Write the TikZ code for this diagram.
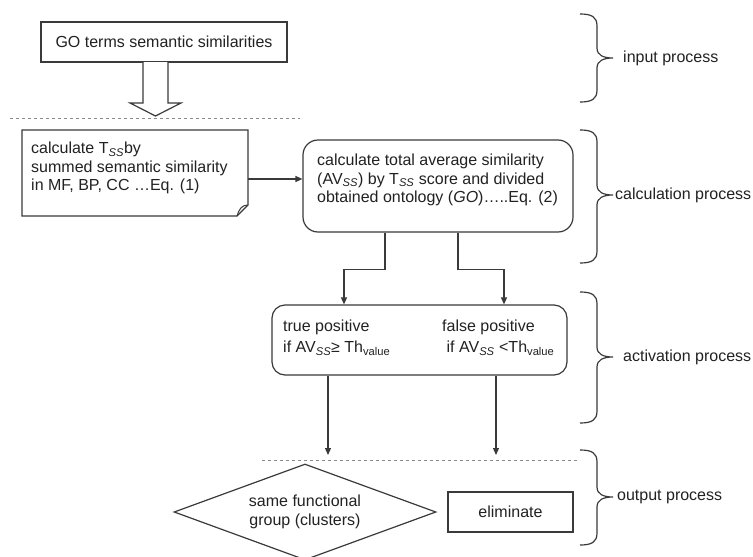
\documentclass[tikz,border=0pt]{standalone}
\usepackage{fontspec}
\setmainfont{Liberation Sans}
\usetikzlibrary{shapes.geometric,arrows.meta}
\definecolor{ln}{HTML}{3A3A3A}
\definecolor{tx}{HTML}{222222}
\definecolor{dsh}{HTML}{8A8A8A}
\newcommand\subit[1]{\textsubscript{\textit{#1}}}
\newcommand\mybrace[3]{%
  \draw[bracestyle] (580,#1) .. controls (592,#1) and (597,{#1+3}) .. (597,{#1+12})
    -- (597,{#2-10}) .. controls (597,{#2-3}) and (603,#2) .. (613,#2)
    .. controls (603,#2) and (597,{#2+3}) .. (597,{#2+10})
    -- (597,{#3-12}) .. controls (597,{#3-3}) and (592,#3) .. (580,#3);}
\begin{document}
\begin{tikzpicture}[x=1pt,y=-1pt,
  every node/.style={text=tx, font=\fontsize{16}{18.5}\selectfont},
  boxstyle/.style={draw=ln, line width=1.2pt, inner sep=0pt},
  txt/.style={inner sep=0pt, align=left},
  conn/.style={draw=ln, line width=1.2pt, -{Triangle[length=7pt,width=6pt]}},
  dashline/.style={draw=dsh, line width=1pt, dash pattern=on 3pt off 3pt},
  bracestyle/.style={draw=ln, line width=1.2pt},
  lbl/.style={anchor=west, inner sep=0pt}]
\useasboundingbox (0,0) rectangle (753,557);
\fill[white] (0,0) rectangle (753,557);

% input
\node[boxstyle, minimum width=246pt, minimum height=40pt] (A) at (164,42) {GO terms semantic similarities};
\coordinate (As) at (155.5,62);
\draw[ln, line width=1.2pt, fill=white] (143,62) -- (143,103) -- (130,103) -- (155.5,116) -- (181,103) -- (168,103) -- (168,62);

\draw[dashline] (10,118) -- (300,118);

% calculation
\node[txt, anchor=north west] (Bt) at (31,142) {calculate T\subit{SS}by\\summed semantic similarity\\in MF, BP, CC \ldots Eq. (1)};
\draw[ln, line width=1.2pt] (22,130) -- (248,130) -- (248,205) -- (237,216) -- (22,216) -- cycle;
\draw[ln, line width=1pt] (248,205) .. controls (242,205) and (239,209) .. (237,216);
\coordinate (Be) at (248,179);

\node[boxstyle, rounded corners=15pt, minimum width=270pt, minimum height=92pt] (C) at (438,186) {};
\node[txt, anchor=north west] (Ct) at (317,154) {calculate total average similarity\\(AV\subit{SS}) by T\subit{SS} score and divided\\obtained ontology (\textit{GO})\ldots..Eq. (2)};
\draw[conn] (Be) -- (C.west |- Be);

% activation
\node[boxstyle, rounded corners=13pt, minimum width=295pt, minimum height=70pt] (D) at (419.5,340) {};
\node[txt, anchor=north west, font=\fontsize{16}{21}\selectfont] (D1) at (283,320) {true positive\\if AV\subit{SS}≥ Th\textsubscript{value}};
\node[txt, anchor=north west, font=\fontsize{16}{21}\selectfont] (D2) at (442,320) {false positive\\\ if AV\subit{SS} <Th\textsubscript{value}};

\draw[conn] ([xshift=-53pt]C.south) -- ++(0,37) -| ([xshift=-75.5pt]D.north);
\draw[conn] ([xshift=20pt]C.south) -- ++(0,37) -| ([xshift=84.5pt]D.north);

\coordinate (e1) at (328,455);
\coordinate (e2) at (496,455);
\draw[conn] (D.south -| e1) -- (e1);
\draw[conn] (D.south -| e2) -- (e2);

\draw[dashline] (262,460) -- (580,460);

% output
\node[boxstyle, diamond, shape aspect=2.73, minimum width=262pt, minimum height=96pt, align=center] (E) at (305,512) {same functional\\group (clusters)};
\node[boxstyle, minimum width=125pt, minimum height=40pt] (F) at (510.5,512) {eliminate};

% braces
\mybrace{14}{58}{102}
\mybrace{130}{195}{263}
\mybrace{292}{357}{423}
\mybrace{450}{497}{545}
\node[lbl] (L1) at (623,58) {input process};
\node[lbl] (L2) at (615,195) {calculation process};
\node[lbl] (L3) at (623,357) {activation process};
\node[lbl] (L4) at (617,497) {output process};
\end{tikzpicture}
\end{document}
